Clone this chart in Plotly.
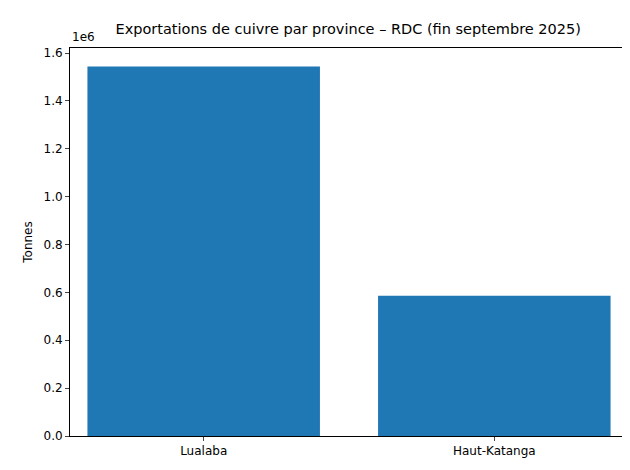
import plotly.graph_objects as go

provinces = ["Lualaba", "Haut-Katanga"]
tonnes = [1544000, 586000]
tick_vals = [0, 0.2e6, 0.4e6, 0.6e6, 0.8e6, 1.0e6, 1.2e6, 1.4e6, 1.6e6]
tick_text = ["0.0", "0.2", "0.4", "0.6", "0.8", "1.0", "1.2", "1.4", "1.6"]

fig = go.Figure(go.Bar(x=[0, 1], y=tonnes, marker_color="#1f77b4",
                       marker_line_width=0, width=0.8))

fig.update_layout(
    width=630, height=470,
    margin=dict(l=62, r=10, t=40, b=42),
    plot_bgcolor="white", paper_bgcolor="white",
    font=dict(family="DejaVu Sans", size=12, color="black"),
    title=dict(text="Exportations de cuivre par province – RDC (fin septembre 2025)",
               x=0.54, xanchor="center", y=0.955, yanchor="middle", font=dict(size=14.5)),
    showlegend=False,
)
fig.update_xaxes(range=[-0.46, 1.46], tickvals=[0, 1], ticktext=provinces,
                 showline=True, linecolor="black", mirror=True, ticks="outside",
                 ticklen=4, showgrid=False, zeroline=False)
fig.update_yaxes(range=[0, 1.6212e6], tickvals=tick_vals, ticktext=tick_text,
                 showline=True, linecolor="black", mirror=True, ticks="outside",
                 ticklen=4, showgrid=False, zeroline=False,
                 title=dict(text="Tonnes", standoff=8, font=dict(size=12)))
fig.add_annotation(text="1e6", xref="paper", yref="paper", x=0, y=1,
                   xanchor="left", yanchor="bottom", showarrow=False, yshift=2)

fig.write_html("out.html")
